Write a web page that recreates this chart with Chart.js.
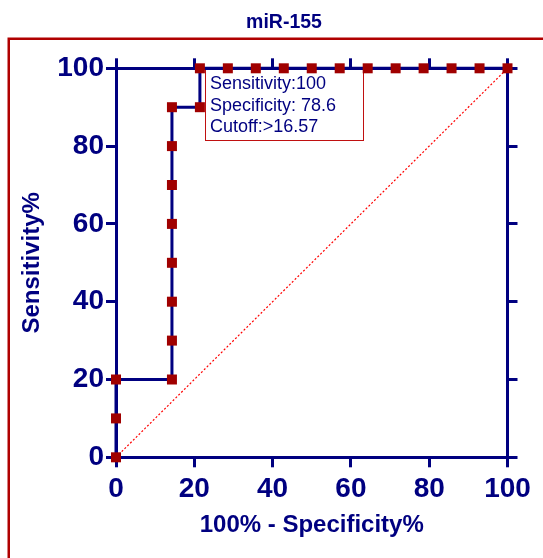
<!DOCTYPE html>
<html>
<head>
<meta charset="utf-8">
<script src="https://cdn.jsdelivr.net/npm/chart.js@4/dist/chart.umd.min.js"></script>
<style>
  html, body { margin: 0; padding: 0; background: #ffffff; }
  #wrap { width: 543px; height: 558px; }
</style>
</head>
<body>
<div id="wrap"><canvas id="c" width="543" height="558"></canvas></div>
<script>
// ---- data ----
const chartTitle = 'miR-155';
const xTitle = '100% - Specificity%';
const yTitle = 'Sensitivity%';
const rocX = [0, 0, 0, 14.29, 14.29, 14.29, 14.29, 14.29, 14.29, 14.29, 14.29, 21.43, 21.43, 28.57, 35.71, 42.86, 50, 57.14, 64.29, 71.43, 78.57, 85.71, 92.86, 100];
const rocY = [0, 10, 20, 20, 30, 40, 50, 60, 70, 80, 90, 90, 100, 100, 100, 100, 100, 100, 100, 100, 100, 100, 100, 100];
const refX = [0, 100];
const refY = [0, 100];
const tickValues = [0, 20, 40, 60, 80, 100];
const annotationLines = ['Sensitivity:100', 'Specificity: 78.6', 'Cutoff:>16.57'];
const cutoffX = 21.43;

const NAVY = '#000080';
const MARK = '#a00000';
const FRAME = '#b00000';
const FONT = "Arial, 'Liberation Sans', sans-serif";

const rocPoints = rocX.map((x, i) => ({ x: x, y: rocY[i] }));
const refPoints = refX.map((x, i) => ({ x: x, y: refY[i] }));

const tickCb = (v) => (tickValues.includes(v) ? String(v) : '');

function axisBase(pos) {
  return {
    type: 'linear',
    position: pos,
    min: 0,
    max: 100,
    afterBuildTicks: (s) => { s.ticks = tickValues.map(v => ({ value: v })); },
    grid: {
      drawOnChartArea: false,
      drawTicks: true,
      tickLength: 10,
      tickWidth: 3,
      tickColor: NAVY,
      color: NAVY,
      lineWidth: 3
    },
    border: { display: true, color: NAVY, width: 3 }
  };
}

const bgPlugin = {
  id: 'bgFrame',
  beforeDraw(chart) {
    const ctx = chart.ctx;
    ctx.save();
    ctx.fillStyle = '#ffffff';
    ctx.fillRect(0, 0, chart.width, chart.height);
    // outer frame
    ctx.strokeStyle = FRAME;
    ctx.lineWidth = 2.5;
    ctx.strokeRect(8.75, 38.75, 700, 700);
    // annotation box
    const xs = chart.scales.x;
    const left = Math.round(xs.getPixelForValue(cutoffX)) + 5.5;
    const top = chart.chartArea.top;
    const right = left + 158;
    const bottom = 140.5;
    ctx.strokeStyle = '#c01010';
    ctx.lineWidth = 1;
    ctx.strokeRect(left, top, right - left, bottom - top);
    ctx.fillStyle = NAVY;
    ctx.font = "18px " + FONT;
    ctx.textBaseline = 'alphabetic';
    ctx.textAlign = 'left';
    const baselines = [89, 110.5, 132];
    annotationLines.forEach((t, i) => ctx.fillText(t, left + 4.5, baselines[i]));
    ctx.restore();
  }
};

const xAxis = axisBase('bottom');
xAxis.ticks = { display: true, callback: tickCb, color: NAVY, padding: 5, maxRotation: 0, autoSkip: false,
  font: { family: FONT, size: 28, weight: 'bold', lineHeight: 1.2 } };
xAxis.title = { display: true, text: xTitle, color: NAVY, padding: { top: 0, bottom: 18 },
  font: { family: FONT, size: 24, weight: 'bold', lineHeight: 1.2 } };
xAxis.afterFit = (s) => { s.height = 100.7; };

const yAxis = axisBase('left');
yAxis.ticks = { display: true, callback: tickCb, color: NAVY, padding: 2, autoSkip: false,
  font: { family: FONT, size: 28, weight: 'bold', lineHeight: 1.2 } };
yAxis.title = { display: true, text: yTitle, color: NAVY, padding: { top: -7.4, bottom: 0 },
  font: { family: FONT, size: 24, weight: 'bold', lineHeight: 1.2 } };
yAxis.afterFit = (s) => { s.width = 116 - 25; };

const x2Axis = axisBase('top');
x2Axis.ticks = { display: false };
x2Axis.afterFit = (s) => { s.height = 33.9; };

const y2Axis = axisBase('right');
y2Axis.ticks = { display: false };
y2Axis.afterFit = (s) => { s.width = 35.5; };

new Chart(document.getElementById('c'), {
  type: 'scatter',
  data: {
    datasets: [
      {
        label: 'ROC',
        data: rocPoints,
        showLine: true,
        borderColor: NAVY,
        borderWidth: 3,
        tension: 0,
        pointStyle: 'rect',
        pointRadius: 7.07,
        pointHoverRadius: 7.07,
        pointBackgroundColor: MARK,
        pointBorderColor: MARK,
        pointBorderWidth: 0,
        clip: false,
        order: 0
      },
      {
        label: 'Reference',
        data: refPoints,
        showLine: true,
        borderColor: '#ff0000',
        borderWidth: 1.2,
        borderDash: [2, 2],
        pointRadius: 0,
        tension: 0,
        clip: false,
        order: 1
      }
    ]
  },
  options: {
    responsive: false,
    animation: false,
    devicePixelRatio: 1,
    layout: { padding: { left: 25, right: 0, top: 0, bottom: 0 } },
    plugins: {
      legend: { display: false },
      tooltip: { enabled: false },
      title: {
        display: true,
        text: chartTitle,
        color: NAVY,
        padding: { top: 11, bottom: 0 },
        font: { family: FONT, size: 19.5, weight: 'bold', lineHeight: 1.2 }
      }
    },
    scales: { x: xAxis, y: yAxis, x2: x2Axis, y2: y2Axis }
  },
  plugins: [bgPlugin]
});
</script>
</body>
</html>
